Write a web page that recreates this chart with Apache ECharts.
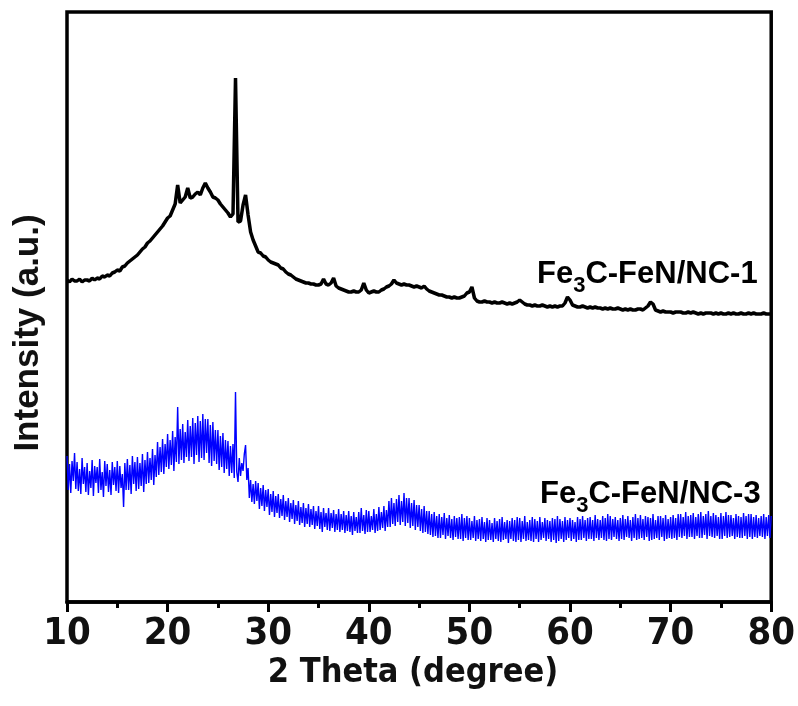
<!DOCTYPE html>
<html>
<head>
<meta charset="utf-8">
<script src="https://cdn.jsdelivr.net/npm/echarts@6/dist/echarts.min.js"></script>
<style>
html,body{margin:0;padding:0;background:#fff;}
#xrdChart{width:798px;height:706px;}
</style>
</head>
<body>
<div id="xrdChart"></div>
<script>
// 2 Theta scan grids, start 10 degree
var angleStart = 10;
var nc1Step = 0.25;
var nc3Step = 0.125;
var xTicks = [10, 20, 30, 40, 50, 60, 70, 80];

// Fe3C-FeN/NC-1 (black), 4 points per degree
var nc1 = [
322,320,323,321, 321,323,320,322, 322,321,324,322, 324,323,326,325,
327,326,329,330, 332,331,335,336, 339,341,343,345, 347,350,353,355,
359,361,364,367, 370,373,376,380, 384,386,392,398, 417,399,402,405,
414,404,405,408, 410,407,414,419, 414,410,405,404, 402,398,395,392,
389,385,388,524, 380,381,397,407, 387,370,362,356, 350,349,346,345,
342,340,339,338, 337,334,333,330, 328,327,325,323, 322,321,320,319,
319,318,318,317, 317,318,323,318, 317,319,324,316, 314,313,312,311,
310,310,311,310, 310,312,319,312, 309,310,311,310, 310,312,313,315,
316,318,322,319, 318,317,318,317, 317,316,315,316, 315,314,316,313,
311,310,309,308, 307,307,306,305, 305,304,305,304, 304,305,306,309,
310,315,304,301, 300,300,301,300, 300,299,300,299, 299,300,299,298,
299,298,299,300, 302,300,298,297, 297,296,297,296, 296,297,296,295,
296,295,296,295, 296,296,299,305, 302,297,296,295, 295,296,295,294,
295,294,295,294, 294,293,294,293, 294,293,293,294, 293,292,293,292,
293,292,292,293, 293,292,294,296, 300,298,292,291, 290,291,290,290,
290,289,290,290, 290,289,289,290, 289,290,289,288, 289,288,289,289,
289,288,289,288, 289,288,288,289, 288,289,288,288, 289,288,288,289,
288,289,288,288, 288,289,288,288, 288
];

// Fe3C-FeN/NC-3 (blue), noisy scan, 8 points per degree (one row = one degree)
var nc3 = [
146,112,138,109,141,121,149,113,
140,111,133,108,144,118,135,110,
139,107,131,114,142,106,136,119,
135,109,143,112,130,105,141,116,
138,110,132,107,140,117,135,111,
141,109,136,114,128,95,139,112,
143,112,137,108,146,118,140,111,
145,113,139,116,148,110,142,118,
150,119,144,122,153,117,147,125,
160,127,155,130,163,128,158,135,
168,133,162,137,171,131,165,140,
195,138,173,142,178,139,170,145,
182,141,176,145,184,138,179,147,
186,140,181,144,188,142,183,149,
183,139,177,136,180,141,172,138,
172,132,166,135,169,129,162,133,
161,126,156,129,158,124,210,130,
120,144,126,139,131,148,157,122,
134,104,122,100,118,98,121,101,
119,93,114,96,117,91,112,95,
113,87,108,90,111,85,106,89,
108,84,103,86,107,82,101,85,
104,80,99,83,102,78,97,81,
101,77,95,79,99,75,94,78,
98,75,93,77,96,73,91,76,
96,73,90,70,94,75,89,72,
94,71,89,74,92,70,88,72,
93,70,88,72,91,69,87,71,
91,70,86,67,90,71,85,69,
90,69,94,71,87,68,92,70,
91,70,86,72,93,69,88,71,
95,72,90,74,96,71,92,75,
101,75,104,78,99,76,103,80,
107,77,101,80,109,76,104,79,
104,74,99,76,102,72,97,75,
97,71,93,69,96,70,91,68,
91,67,88,65,90,66,86,64,
88,64,85,67,89,63,84,66,
87,64,83,62,86,65,84,63,
85,63,88,61,84,64,86,62,
84,62,81,64,86,61,82,63,
83,61,85,63,80,60,84,62,
82,62,79,60,84,63,81,61,
83,60,85,62,80,63,82,59,
81,63,84,61,82,60,85,62,
84,60,81,63,86,61,80,62,
82,61,85,60,83,63,81,60,
85,62,80,64,84,61,82,63,
81,60,84,62,83,59,86,61,
83,63,81,60,85,62,82,64,
84,61,82,63,80,60,85,62,
83,62,86,64,82,61,84,63,
85,63,82,61,87,64,83,62,
82,64,86,62,84,61,88,63,
86,62,83,65,85,63,82,61,
84,63,87,62,83,65,86,64,
82,61,85,64,88,62,84,63,
87,64,83,62,86,65,85,61,
84,62,88,63,82,64,86,62,
86,65,84,61,87,63,83,64,
85,63,87,64,84,62,88,65,
88,64,85,66,90,63,86,65,
87,65,89,63,85,66,88,64,
90,64,86,67,88,63,91,66,
86,65,89,64,87,66,85,63,
89,63,86,66,90,64,87,65,
87,66,84,63,88,65,86,64,
85,64,89,66,86,63,88,65,
88,63,85,65,87,64,84,66,
86,65,88,63,85,66,87,64,
86
];

var seriesNames = ['Fe3C-FeN/NC-1', 'Fe3C-FeN/NC-3'];

function toPairs(values, step) {
    return values.map(function (v, i) {
        return [angleStart + i * step, v];
    });
}

intXrd();

function intXrd() {
    var xrdChart = echarts.init(document.getElementById('xrdChart'));
    var narrow = "'Liberation Sans Narrow','DejaVu Sans Condensed',Arial,sans-serif";
    var sans = "'Liberation Sans',Arial,sans-serif";
    var labelRich = {
        a: {fontSize: 31, fontWeight: 'bold', fontFamily: sans, color: '#111', lineHeight: 36},
        s: {fontSize: 22, fontWeight: 'bold', fontFamily: sans, color: '#111', lineHeight: 22, padding: [24, 0, 0, 0]}
    };
    option = {
        animation: false,
        backgroundColor: '#fff',
        grid: {
            show: true,
            left: 67,
            right: 25,
            top: 12,
            bottom: 104,
            borderColor: '#000',
            borderWidth: 3.5,
            containLabel: false
        },
        xAxis: {
            type: 'value',
            min: xTicks[0],
            max: xTicks[xTicks.length - 1],
            interval: 10,
            axisLine: {show: true, onZero: false, lineStyle: {color: '#000', width: 3.5}},
            axisTick: {show: true, inside: false, length: 10, lineStyle: {color: '#000', width: 3}},
            minorTick: {show: true, splitNumber: 2, length: 6, lineStyle: {color: '#000', width: 3}},
            splitLine: {show: false},
            axisLabel: {
                margin: 13,
                color: '#111',
                fontSize: 38,
                fontWeight: 'bold',
                fontFamily: narrow
            }
        },
        yAxis: {
            type: 'value',
            min: 0,
            max: 590,
            axisLine: {show: false},
            axisTick: {show: false},
            axisLabel: {show: false},
            splitLine: {show: false}
        },
        graphic: [
            {
                type: 'text', left: 537, top: 251,
                style: {text: '{a|Fe}{s|3}{a|C-FeN/NC-1}', rich: labelRich}
            },
            {
                type: 'text', left: 540, top: 471,
                style: {text: '{a|Fe}{s|3}{a|C-FeN/NC-3}', rich: labelRich}
            },
            {
                type: 'text', x: 413, y: 673,
                style: {
                    text: '2 Theta (degree)', fill: '#111',
                    font: 'bold 34px ' + narrow,
                    align: 'center', verticalAlign: 'middle'
                }
            },
            {
                type: 'text', x: 28, y: 333, rotation: Math.PI / 2,
                style: {
                    text: 'Intensity (a.u.)', fill: '#111',
                    font: 'bold 35px ' + sans,
                    align: 'center', verticalAlign: 'middle'
                }
            }
        ],
        series: [
            {
                name: seriesNames[0],
                type: 'line',
                showSymbol: false,
                data: toPairs(nc1, nc1Step),
                lineStyle: {color: '#000', width: 3.5},
                z: 3
            },
            {
                name: seriesNames[1],
                type: 'line',
                showSymbol: false,
                sampling: false,
                data: toPairs(nc3, nc3Step),
                lineStyle: {color: '#0000ff', width: 1.4, join: 'bevel'},
                z: 2
            }
        ]
    };
    xrdChart.setOption(option);
}
</script>
</body>
</html>
